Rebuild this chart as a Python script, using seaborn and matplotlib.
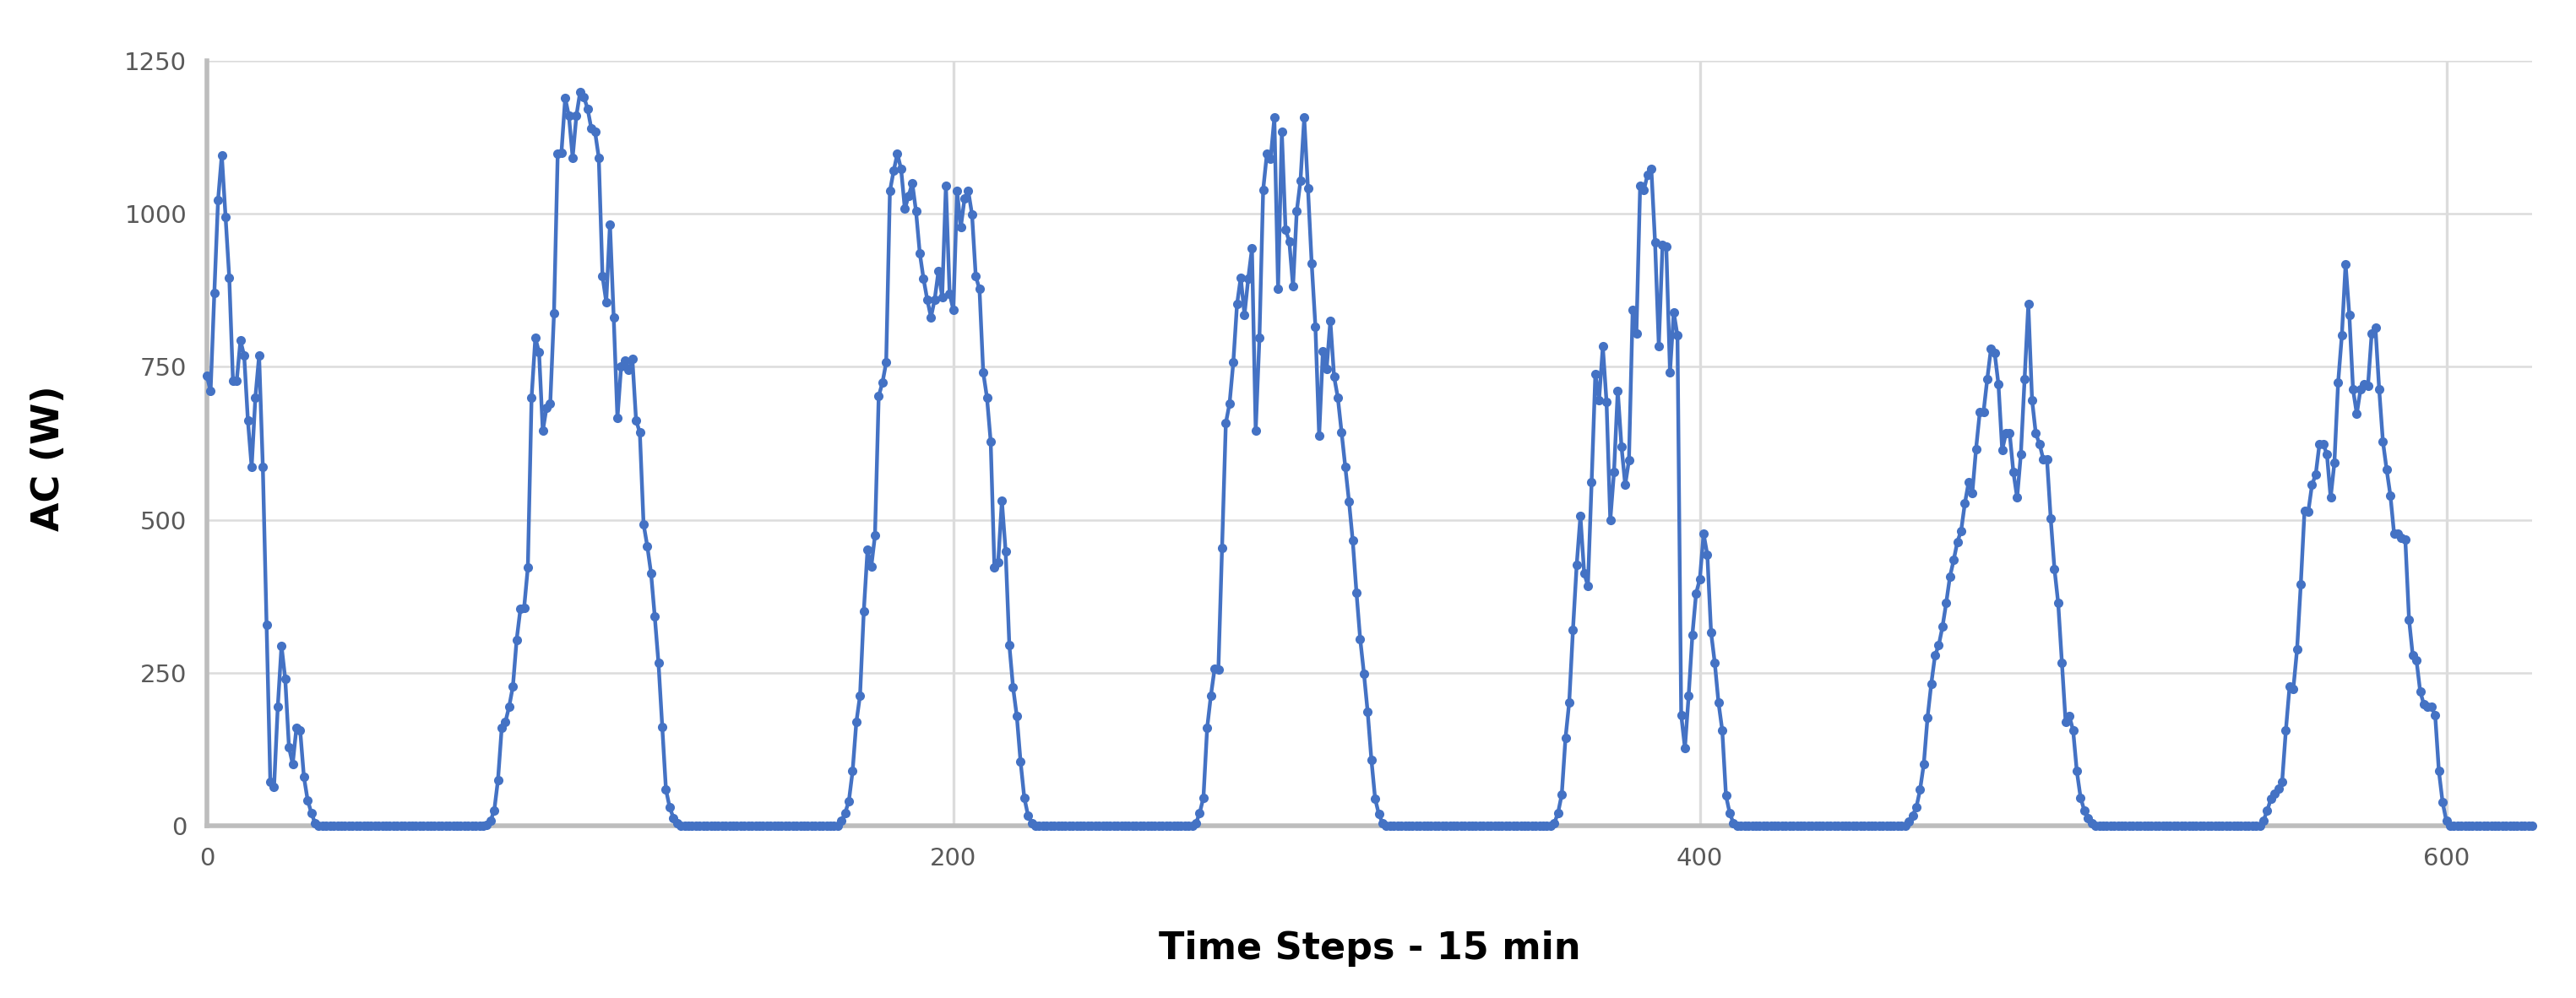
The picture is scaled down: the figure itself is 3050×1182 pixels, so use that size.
import numpy as np
import pandas as pd
import matplotlib
matplotlib.use("Agg")
import matplotlib.pyplot as plt
import seaborn as sns

# ---- data (AC power, W, per 15-min step) ----
n_steps = 624

day1_start = 0
day1 = [735, 710, 870, 1022, 1096, 995, 896, 727, 727, 793, 768, 662, 586, 700, 768,
        586, 329, 72, 63, 194, 294, 240, 128, 101, 160, 156, 80, 42, 21, 4]

day2_start = 75
day2 = [2, 8, 25, 75, 160, 170, 195, 228, 304, 354, 356, 422, 700, 797, 774, 645, 683,
        690, 837, 1098, 1100, 1189, 1160, 1092, 1160, 1199, 1191, 1172, 1139, 1134, 1092,
        898, 856, 983, 831, 666, 751, 760, 745, 763, 662, 643, 493, 457, 413, 342, 266,
        162, 59, 30, 13, 4]

day3_start = 170
day3 = [8, 21, 40, 89, 169, 213, 350, 451, 423, 474, 702, 724, 757, 1037, 1070, 1098,
        1073, 1008, 1029, 1050, 1004, 936, 894, 860, 831, 860, 906, 864, 1046, 869, 843,
        1037, 978, 1025, 1037, 999, 898, 877, 741, 700, 628, 422, 430, 531, 449, 295, 226,
        179, 105, 46, 17, 4]

day4_start = 265
day4 = [4, 21, 46, 160, 213, 257, 255, 454, 658, 690, 757, 852, 896, 835, 894, 943, 645,
        797, 1039, 1098, 1090, 1157, 877, 1134, 974, 955, 881, 1004, 1054, 1157, 1042, 919,
        816, 637, 776, 746, 825, 734, 700, 643, 586, 530, 466, 381, 305, 249, 186, 108, 44,
        19, 4]

day5_start = 361
day5 = [4, 21, 51, 143, 202, 320, 426, 506, 413, 392, 561, 738, 696, 783, 692, 499, 578,
        711, 620, 557, 597, 843, 805, 1046, 1039, 1064, 1073, 953, 784, 949, 946, 741, 839,
        801, 181, 127, 213, 312, 380, 403, 477, 443, 316, 266, 201, 156, 49, 21, 4]

day6_start = 456
day6 = [7, 17, 30, 59, 101, 177, 232, 278, 295, 325, 364, 407, 434, 464, 482, 527, 561,
        544, 616, 676, 676, 730, 780, 772, 721, 614, 641, 641, 578, 536, 607, 730, 852,
        696, 641, 624, 599, 599, 502, 420, 364, 266, 169, 179, 156, 89, 46, 25, 13, 4]

day7_start = 551
day7 = [8, 25, 44, 52, 60, 72, 156, 228, 224, 288, 395, 515, 513, 557, 574, 624, 624, 607,
        536, 593, 724, 801, 918, 835, 713, 673, 713, 721, 719, 805, 814, 713, 628, 582, 540,
        477, 477, 470, 468, 337, 278, 270, 219, 198, 194, 194, 181, 89, 38, 8]

y_ticks = [0, 250, 500, 750, 1000, 1250]
x_ticks = [0, 200, 400, 600]
x_label = "Time Steps - 15 min"
y_label = "AC (W)"

# build series (night-time steps are 0 W)
ac = np.zeros(n_steps)
for start, vals in [(day1_start, day1), (day2_start, day2), (day3_start, day3),
                    (day4_start, day4), (day5_start, day5), (day6_start, day6),
                    (day7_start, day7)]:
    ac[start:start + len(vals)] = vals
df = pd.DataFrame({"step": np.arange(n_steps), "ac": ac})

# ---- plotting ----
sns.set_style("white")
plt.rcParams["font.family"] = ["DejaVu Sans"]

fig = plt.figure(figsize=(30.5, 11.82), dpi=100)
ax = fig.add_axes([0.0803, 0.1726, 0.9027, 0.7665])

grid_c = "#dcdcdc"
for yv in y_ticks[1:]:
    ax.axhline(yv, color=grid_c, lw=1.8, zorder=0)
for xv in x_ticks[1:]:
    ax.axvline(xv, color=grid_c, lw=2.4, zorder=0)

sns.lineplot(data=df, x="step", y="ac", ax=ax, estimator=None, color="#4472C4",
             linewidth=3.2, marker="o", markersize=8, markeredgewidth=0,
             clip_on=False, zorder=3)

ax.set_xlim(0, 623)
ax.set_ylim(0, 1250)
ax.set_xticks(x_ticks)
ax.set_yticks(y_ticks)

for s in ["top", "right"]:
    ax.spines[s].set_visible(False)
for s in ["left", "bottom"]:
    ax.spines[s].set_color("#bdbdbd")
    ax.spines[s].set_linewidth(4)
    ax.spines[s].set_zorder(2)

ax.tick_params(axis="y", labelsize=21, labelcolor="#595959", length=6,
               color=grid_c, width=1.8, pad=11)
ax.tick_params(axis="x", labelsize=21, labelcolor="#595959", length=0, pad=18)

ax.set_xlabel(x_label, fontsize=32, fontweight="bold", color="black", va="center")
ax.set_ylabel(y_label, fontsize=32, fontweight="bold", color="black", va="center")
ax.xaxis.set_label_coords(0.5, -0.161)
ax.yaxis.set_label_coords(-0.068, 0.48)

fig.savefig("out.png", dpi=100, facecolor="white")
